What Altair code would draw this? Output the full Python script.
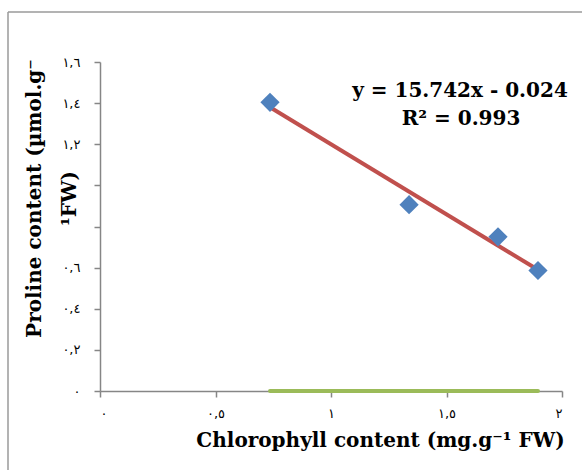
import altair as alt
import pandas as pd

# ---- data ----
chlorophyll = [0.736, 1.338, 1.723, 1.896]
proline = [1.404, 0.906, 0.750, 0.586]
series2 = [0.0, 0.0, 0.0, 0.0]

x_ticks = [0, 0.5, 1, 1.5, 2]
x_labels = ["٠", "٠,٥", "١", "١,٥", "٢"]
y_ticks = [0, 0.2, 0.4, 0.6, 0.8, 1.0, 1.2, 1.4, 1.6]
# labels at 0.8 and 1 are covered by the axis title in the original
y_labels = ["٠", "٠,٢", "٠,٤", "٠,٦", "", "", "١,٢", "١,٤", "١,٦"]

equation_lines = ["y = 15.742x - 0.024", "R² = 0.993"]


def label_expr(vals, labs):
    s = "''"
    for v, l in reversed(list(zip(vals, labs))):
        s = f"abs(datum.value - {v}) < 1e-6 ? '{l}' : ({s})"
    return s


df = pd.DataFrame({"x": chlorophyll, "y": proline, "y2": series2})

AX = "#868686"
TFONT = "DejaVu Serif"

x_enc = alt.X(
    "x:Q",
    scale=alt.Scale(domain=[0, 2], nice=False),
    axis=alt.Axis(
        values=x_ticks,
        labelExpr=label_expr(x_ticks, x_labels),
        title="Chlorophyll content (mg.g⁻¹ FW)",
        titleFont=TFONT,
        titleFontSize=20,
        titleFontWeight="bold",
        titleColor="black",
        titlePadding=10,
        titleX=280,
        labelFont="DejaVu Sans",
        labelFontSize=13,
        labelColor="black",
        labelPadding=10,
        domainColor=AX,
        domainWidth=1.5,
        tickColor=AX,
        tickWidth=1.5,
        tickSize=6,
        grid=False,
    ),
)

y_enc = alt.Y(
    "y:Q",
    scale=alt.Scale(domain=[0, 1.6], nice=False),
    axis=alt.Axis(
        values=y_ticks,
        labelExpr=label_expr(y_ticks, y_labels),
        title=["Proline content (µmol.g⁻", "¹FW)"],
        titleFont=TFONT,
        titleFontSize=20,
        titleFontWeight="bold",
        titleColor="black",
        titleAngle=270,
        titleAlign="center",
        titleBaseline="alphabetic",
        titleLineHeight=35,
        titleX=-60,
        titleY=136,
        labelFont="DejaVu Sans",
        labelFontSize=13,
        labelColor="black",
        labelPadding=14,
        domainColor=AX,
        domainWidth=1.5,
        tickColor=AX,
        tickWidth=1.5,
        tickSize=6,
        grid=False,
    ),
)

base = alt.Chart(df)

zero_line = base.mark_line(color="#9BBB59", strokeWidth=4, strokeCap="round").encode(
    x=x_enc, y=alt.Y("y2:Q", scale=alt.Scale(domain=[0, 1.6], nice=False))
)

trend = (
    base.transform_regression("x", "y")
    .mark_line(color="#C0504D", strokeWidth=4)
    .encode(x="x:Q", y="y:Q")
)

points = base.mark_point(
    shape="diamond", filled=True, opacity=1, color="#4F81BD", size=370
).encode(x=x_enc, y=y_enc)

text_style = dict(font=TFONT, fontSize=20, fontWeight="bold", color="black",
                  align="center", baseline="alphabetic")
eq1 = alt.Chart(pd.DataFrame({"t": [equation_lines[0]]})).mark_text(**text_style).encode(
    text="t:N", x=alt.value(360), y=alt.value(35)
)
eq2 = alt.Chart(pd.DataFrame({"t": [equation_lines[1]]})).mark_text(**text_style).encode(
    text="t:N", x=alt.value(361), y=alt.value(63)
)

one = pd.DataFrame({"a": [0]})
border_left = alt.Chart(one).mark_rule(color="#9a9a9a", strokeWidth=1.5, clip=False).encode(
    x=alt.value(-92), y=alt.value(-50), y2=alt.value(420)
)
border_top = alt.Chart(one).mark_rule(color="#9a9a9a", strokeWidth=1.5, clip=False).encode(
    x=alt.value(-92), x2=alt.value(500), y=alt.value(-50)
)

chart = (
    alt.layer(border_left, border_top, zero_line, trend, points, eq1, eq2)
    .properties(
        width=462,
        height=329,
        autosize=alt.AutoSizeParams(type="none"),
        padding={"left": 100, "top": 62, "right": 20, "bottom": 79},
        background="white",
    )
    .configure_view(stroke=None)
)

chart.save("out.html", embed_options={"renderer": "svg", "actions": False})
